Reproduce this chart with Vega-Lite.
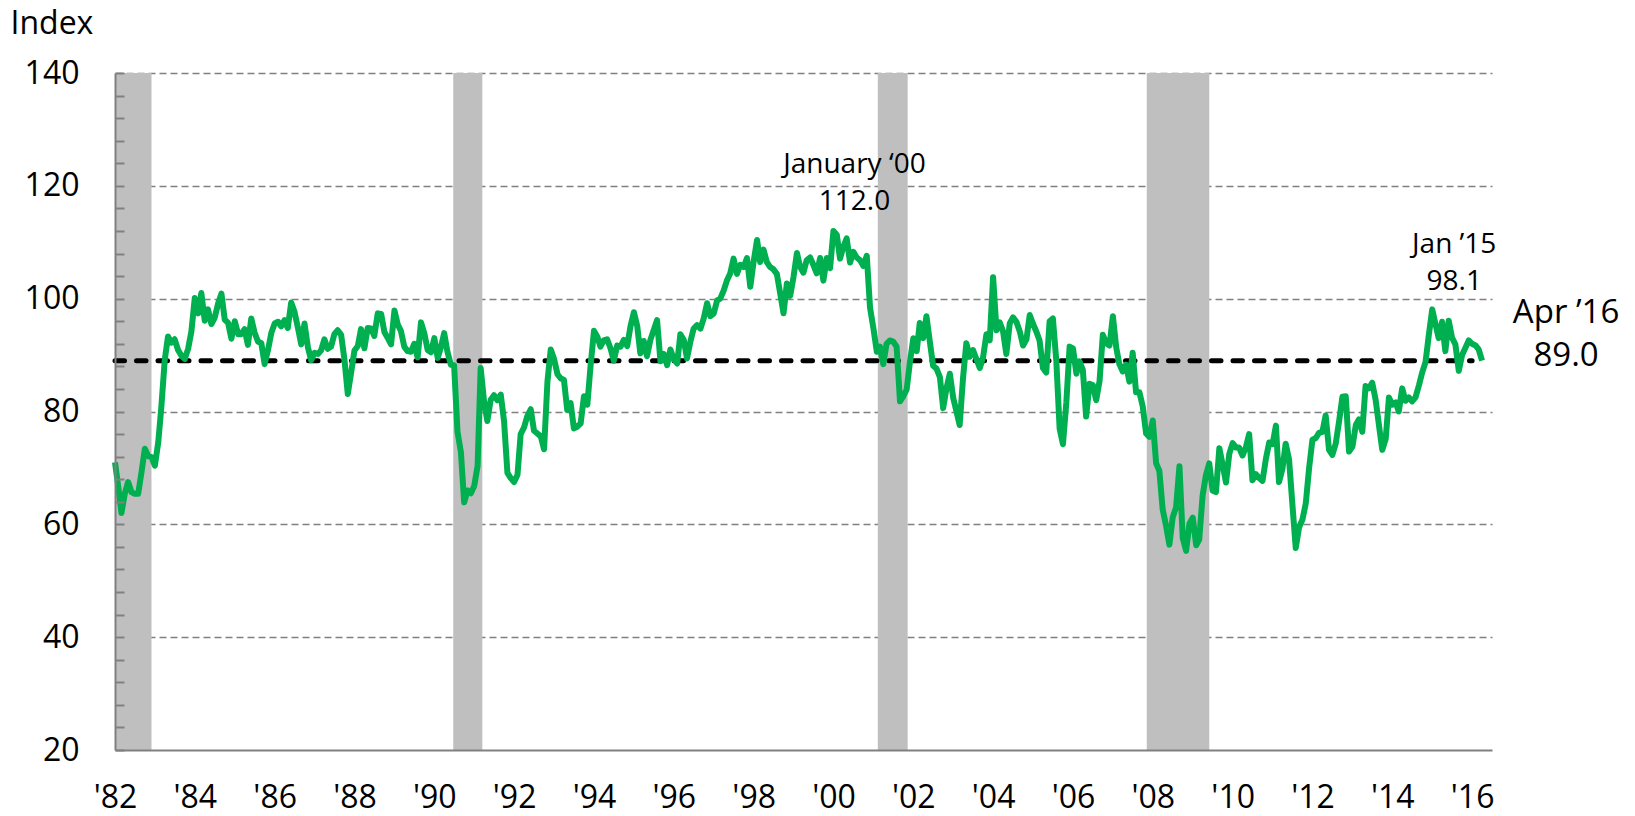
{
  "$schema": "https://vega.github.io/schema/vega-lite/v6.json",
  "width": 1377,
  "height": 677,
  "autosize": {"type": "none"},
  "padding": {"left": 115, "top": 73, "right": 143, "bottom": 66},
  "background": "white",
  "config": {
    "view": {"stroke": null},
    "font": "Open Sans",
    "text": {"font": "Open Sans", "color": "black"}
  },
  "datasets": {
    "sent": [
      {"d":"1982-01","v":71.0},{"d":"1982-02","v":66.5},{"d":"1982-03","v":62.0},{"d":"1982-04","v":65.5},{"d":"1982-05","v":67.5},{"d":"1982-06","v":65.7},{"d":"1982-07","v":65.4},{"d":"1982-08","v":65.4},{"d":"1982-09","v":69.3},{"d":"1982-10","v":73.4},{"d":"1982-11","v":72.1},{"d":"1982-12","v":71.9},
      {"d":"1983-01","v":70.4},{"d":"1983-02","v":74.6},{"d":"1983-03","v":80.8},{"d":"1983-04","v":89.1},{"d":"1983-05","v":93.3},{"d":"1983-06","v":92.2},{"d":"1983-07","v":92.8},{"d":"1983-08","v":90.9},{"d":"1983-09","v":89.9},{"d":"1983-10","v":89.3},{"d":"1983-11","v":91.1},{"d":"1983-12","v":94.2},
      {"d":"1984-01","v":100.1},{"d":"1984-02","v":97.4},{"d":"1984-03","v":101.0},{"d":"1984-04","v":96.1},{"d":"1984-05","v":98.1},{"d":"1984-06","v":95.5},{"d":"1984-07","v":96.6},{"d":"1984-08","v":99.1},{"d":"1984-09","v":100.9},{"d":"1984-10","v":96.3},{"d":"1984-11","v":95.7},{"d":"1984-12","v":92.9},
      {"d":"1985-01","v":96.0},{"d":"1985-02","v":93.7},{"d":"1985-03","v":93.7},{"d":"1985-04","v":94.6},{"d":"1985-05","v":91.8},{"d":"1985-06","v":96.5},{"d":"1985-07","v":94.0},{"d":"1985-08","v":92.4},{"d":"1985-09","v":92.1},{"d":"1985-10","v":88.4},{"d":"1985-11","v":90.9},{"d":"1985-12","v":93.9},
      {"d":"1986-01","v":95.6},{"d":"1986-02","v":95.9},{"d":"1986-03","v":95.1},{"d":"1986-04","v":96.2},{"d":"1986-05","v":94.8},{"d":"1986-06","v":99.3},{"d":"1986-07","v":97.7},{"d":"1986-08","v":94.9},{"d":"1986-09","v":91.9},{"d":"1986-10","v":95.6},{"d":"1986-11","v":91.4},{"d":"1986-12","v":89.1},
      {"d":"1987-01","v":90.4},{"d":"1987-02","v":90.2},{"d":"1987-03","v":90.8},{"d":"1987-04","v":92.8},{"d":"1987-05","v":91.1},{"d":"1987-06","v":91.5},{"d":"1987-07","v":93.7},{"d":"1987-08","v":94.4},{"d":"1987-09","v":93.6},{"d":"1987-10","v":89.3},{"d":"1987-11","v":83.1},{"d":"1987-12","v":86.8},
      {"d":"1988-01","v":90.8},{"d":"1988-02","v":91.6},{"d":"1988-03","v":94.6},{"d":"1988-04","v":91.2},{"d":"1988-05","v":94.8},{"d":"1988-06","v":94.7},{"d":"1988-07","v":93.4},{"d":"1988-08","v":97.4},{"d":"1988-09","v":97.3},{"d":"1988-10","v":94.1},{"d":"1988-11","v":93.0},{"d":"1988-12","v":91.9},
      {"d":"1989-01","v":97.9},{"d":"1989-02","v":95.4},{"d":"1989-03","v":94.3},{"d":"1989-04","v":91.5},{"d":"1989-05","v":90.7},{"d":"1989-06","v":90.6},{"d":"1989-07","v":92.0},{"d":"1989-08","v":89.6},{"d":"1989-09","v":95.8},{"d":"1989-10","v":93.9},{"d":"1989-11","v":90.9},{"d":"1989-12","v":90.5},
      {"d":"1990-01","v":93.0},{"d":"1990-02","v":89.5},{"d":"1990-03","v":91.3},{"d":"1990-04","v":93.9},{"d":"1990-05","v":90.6},{"d":"1990-06","v":88.3},{"d":"1990-07","v":88.2},{"d":"1990-08","v":76.4},{"d":"1990-09","v":72.8},{"d":"1990-10","v":63.9},{"d":"1990-11","v":66.0},{"d":"1990-12","v":65.5},
      {"d":"1991-01","v":66.8},{"d":"1991-02","v":70.4},{"d":"1991-03","v":87.7},{"d":"1991-04","v":81.8},{"d":"1991-05","v":78.3},{"d":"1991-06","v":82.1},{"d":"1991-07","v":82.9},{"d":"1991-08","v":82.0},{"d":"1991-09","v":83.0},{"d":"1991-10","v":78.3},{"d":"1991-11","v":69.1},{"d":"1991-12","v":68.2},
      {"d":"1992-01","v":67.5},{"d":"1992-02","v":68.8},{"d":"1992-03","v":76.0},{"d":"1992-04","v":77.2},{"d":"1992-05","v":79.2},{"d":"1992-06","v":80.4},{"d":"1992-07","v":76.6},{"d":"1992-08","v":76.1},{"d":"1992-09","v":75.6},{"d":"1992-10","v":73.3},{"d":"1992-11","v":85.3},{"d":"1992-12","v":91.0},
      {"d":"1993-01","v":89.3},{"d":"1993-02","v":86.6},{"d":"1993-03","v":85.9},{"d":"1993-04","v":85.6},{"d":"1993-05","v":80.3},{"d":"1993-06","v":81.5},{"d":"1993-07","v":77.0},{"d":"1993-08","v":77.3},{"d":"1993-09","v":77.9},{"d":"1993-10","v":82.7},{"d":"1993-11","v":81.2},{"d":"1993-12","v":88.2},
      {"d":"1994-01","v":94.3},{"d":"1994-02","v":93.2},{"d":"1994-03","v":91.5},{"d":"1994-04","v":92.6},{"d":"1994-05","v":92.8},{"d":"1994-06","v":91.2},{"d":"1994-07","v":89.0},{"d":"1994-08","v":91.7},{"d":"1994-09","v":91.5},{"d":"1994-10","v":92.7},{"d":"1994-11","v":91.6},{"d":"1994-12","v":95.1},
      {"d":"1995-01","v":97.6},{"d":"1995-02","v":95.1},{"d":"1995-03","v":90.3},{"d":"1995-04","v":92.5},{"d":"1995-05","v":89.8},{"d":"1995-06","v":92.7},{"d":"1995-07","v":94.4},{"d":"1995-08","v":96.2},{"d":"1995-09","v":88.9},{"d":"1995-10","v":90.2},{"d":"1995-11","v":88.2},{"d":"1995-12","v":91.0},
      {"d":"1996-01","v":89.3},{"d":"1996-02","v":88.5},{"d":"1996-03","v":93.7},{"d":"1996-04","v":92.7},{"d":"1996-05","v":89.4},{"d":"1996-06","v":92.4},{"d":"1996-07","v":94.7},{"d":"1996-08","v":95.3},{"d":"1996-09","v":94.7},{"d":"1996-10","v":96.5},{"d":"1996-11","v":99.2},{"d":"1996-12","v":96.9},
      {"d":"1997-01","v":97.4},{"d":"1997-02","v":99.7},{"d":"1997-03","v":100.0},{"d":"1997-04","v":101.4},{"d":"1997-05","v":103.2},{"d":"1997-06","v":104.5},{"d":"1997-07","v":107.1},{"d":"1997-08","v":104.4},{"d":"1997-09","v":106.0},{"d":"1997-10","v":105.6},{"d":"1997-11","v":107.2},{"d":"1997-12","v":102.1},
      {"d":"1998-01","v":106.6},{"d":"1998-02","v":110.4},{"d":"1998-03","v":106.5},{"d":"1998-04","v":108.7},{"d":"1998-05","v":106.5},{"d":"1998-06","v":105.6},{"d":"1998-07","v":105.2},{"d":"1998-08","v":104.4},{"d":"1998-09","v":100.9},{"d":"1998-10","v":97.4},{"d":"1998-11","v":102.7},{"d":"1998-12","v":100.5},
      {"d":"1999-01","v":103.9},{"d":"1999-02","v":108.1},{"d":"1999-03","v":105.7},{"d":"1999-04","v":104.6},{"d":"1999-05","v":106.8},{"d":"1999-06","v":107.3},{"d":"1999-07","v":106.0},{"d":"1999-08","v":104.5},{"d":"1999-09","v":107.2},{"d":"1999-10","v":103.2},{"d":"1999-11","v":107.2},{"d":"1999-12","v":105.4},
      {"d":"2000-01","v":112.0},{"d":"2000-02","v":111.3},{"d":"2000-03","v":107.1},{"d":"2000-04","v":109.2},{"d":"2000-05","v":110.7},{"d":"2000-06","v":106.4},{"d":"2000-07","v":108.3},{"d":"2000-08","v":107.3},{"d":"2000-09","v":106.8},{"d":"2000-10","v":105.8},{"d":"2000-11","v":107.6},{"d":"2000-12","v":98.4},
      {"d":"2001-01","v":94.7},{"d":"2001-02","v":90.6},{"d":"2001-03","v":91.5},{"d":"2001-04","v":88.4},{"d":"2001-05","v":92.0},{"d":"2001-06","v":92.6},{"d":"2001-07","v":92.4},{"d":"2001-08","v":91.5},{"d":"2001-09","v":81.8},{"d":"2001-10","v":82.7},{"d":"2001-11","v":83.9},{"d":"2001-12","v":88.8},
      {"d":"2002-01","v":93.0},{"d":"2002-02","v":90.7},{"d":"2002-03","v":95.7},{"d":"2002-04","v":93.0},{"d":"2002-05","v":96.9},{"d":"2002-06","v":92.4},{"d":"2002-07","v":88.1},{"d":"2002-08","v":87.6},{"d":"2002-09","v":86.1},{"d":"2002-10","v":80.6},{"d":"2002-11","v":84.2},{"d":"2002-12","v":86.7},
      {"d":"2003-01","v":82.4},{"d":"2003-02","v":79.9},{"d":"2003-03","v":77.6},{"d":"2003-04","v":86.0},{"d":"2003-05","v":92.1},{"d":"2003-06","v":89.7},{"d":"2003-07","v":90.9},{"d":"2003-08","v":89.3},{"d":"2003-09","v":87.7},{"d":"2003-10","v":89.6},{"d":"2003-11","v":93.7},{"d":"2003-12","v":92.6},
      {"d":"2004-01","v":103.8},{"d":"2004-02","v":94.4},{"d":"2004-03","v":95.8},{"d":"2004-04","v":94.2},{"d":"2004-05","v":90.2},{"d":"2004-06","v":95.6},{"d":"2004-07","v":96.7},{"d":"2004-08","v":95.9},{"d":"2004-09","v":94.2},{"d":"2004-10","v":91.7},{"d":"2004-11","v":92.8},{"d":"2004-12","v":97.1},
      {"d":"2005-01","v":95.5},{"d":"2005-02","v":94.1},{"d":"2005-03","v":92.6},{"d":"2005-04","v":87.7},{"d":"2005-05","v":86.9},{"d":"2005-06","v":96.0},{"d":"2005-07","v":96.5},{"d":"2005-08","v":89.1},{"d":"2005-09","v":76.9},{"d":"2005-10","v":74.2},{"d":"2005-11","v":81.6},{"d":"2005-12","v":91.5},
      {"d":"2006-01","v":91.2},{"d":"2006-02","v":86.7},{"d":"2006-03","v":88.9},{"d":"2006-04","v":87.4},{"d":"2006-05","v":79.1},{"d":"2006-06","v":84.9},{"d":"2006-07","v":84.7},{"d":"2006-08","v":82.0},{"d":"2006-09","v":85.4},{"d":"2006-10","v":93.6},{"d":"2006-11","v":92.1},{"d":"2006-12","v":91.7},
      {"d":"2007-01","v":96.9},{"d":"2007-02","v":91.3},{"d":"2007-03","v":88.4},{"d":"2007-04","v":87.1},{"d":"2007-05","v":88.3},{"d":"2007-06","v":85.3},{"d":"2007-07","v":90.4},{"d":"2007-08","v":83.4},{"d":"2007-09","v":83.4},{"d":"2007-10","v":80.9},{"d":"2007-11","v":76.1},{"d":"2007-12","v":75.5},
      {"d":"2008-01","v":78.4},{"d":"2008-02","v":70.8},{"d":"2008-03","v":69.5},{"d":"2008-04","v":62.6},{"d":"2008-05","v":59.8},{"d":"2008-06","v":56.4},{"d":"2008-07","v":61.2},{"d":"2008-08","v":63.0},{"d":"2008-09","v":70.3},{"d":"2008-10","v":57.6},{"d":"2008-11","v":55.3},{"d":"2008-12","v":60.1},
      {"d":"2009-01","v":61.2},{"d":"2009-02","v":56.3},{"d":"2009-03","v":57.3},{"d":"2009-04","v":65.1},{"d":"2009-05","v":68.7},{"d":"2009-06","v":70.8},{"d":"2009-07","v":66.0},{"d":"2009-08","v":65.7},{"d":"2009-09","v":73.5},{"d":"2009-10","v":70.6},{"d":"2009-11","v":67.4},{"d":"2009-12","v":72.5},
      {"d":"2010-01","v":74.4},{"d":"2010-02","v":73.6},{"d":"2010-03","v":73.6},{"d":"2010-04","v":72.2},{"d":"2010-05","v":73.6},{"d":"2010-06","v":76.0},{"d":"2010-07","v":67.8},{"d":"2010-08","v":68.9},{"d":"2010-09","v":68.2},{"d":"2010-10","v":67.7},{"d":"2010-11","v":71.6},{"d":"2010-12","v":74.5},
      {"d":"2011-01","v":74.2},{"d":"2011-02","v":77.5},{"d":"2011-03","v":67.5},{"d":"2011-04","v":69.8},{"d":"2011-05","v":74.3},{"d":"2011-06","v":71.5},{"d":"2011-07","v":63.7},{"d":"2011-08","v":55.8},{"d":"2011-09","v":59.5},{"d":"2011-10","v":60.8},{"d":"2011-11","v":63.7},{"d":"2011-12","v":69.9},
      {"d":"2012-01","v":75.0},{"d":"2012-02","v":75.3},{"d":"2012-03","v":76.2},{"d":"2012-04","v":76.4},{"d":"2012-05","v":79.3},{"d":"2012-06","v":73.2},{"d":"2012-07","v":72.3},{"d":"2012-08","v":74.3},{"d":"2012-09","v":78.3},{"d":"2012-10","v":82.6},{"d":"2012-11","v":82.7},{"d":"2012-12","v":72.9},
      {"d":"2013-01","v":73.8},{"d":"2013-02","v":77.6},{"d":"2013-03","v":78.6},{"d":"2013-04","v":76.4},{"d":"2013-05","v":84.5},{"d":"2013-06","v":84.1},{"d":"2013-07","v":85.1},{"d":"2013-08","v":82.1},{"d":"2013-09","v":77.5},{"d":"2013-10","v":73.2},{"d":"2013-11","v":75.1},{"d":"2013-12","v":82.5},
      {"d":"2014-01","v":81.2},{"d":"2014-02","v":81.6},{"d":"2014-03","v":80.0},{"d":"2014-04","v":84.1},{"d":"2014-05","v":81.9},{"d":"2014-06","v":82.5},{"d":"2014-07","v":81.8},{"d":"2014-08","v":82.5},{"d":"2014-09","v":84.6},{"d":"2014-10","v":86.9},{"d":"2014-11","v":88.8},{"d":"2014-12","v":93.6},
      {"d":"2015-01","v":98.1},{"d":"2015-02","v":95.4},{"d":"2015-03","v":93.0},{"d":"2015-04","v":95.9},{"d":"2015-05","v":90.7},{"d":"2015-06","v":96.1},{"d":"2015-07","v":93.1},{"d":"2015-08","v":91.9},{"d":"2015-09","v":87.2},{"d":"2015-10","v":90.0},{"d":"2015-11","v":91.3},{"d":"2015-12","v":92.6},
      {"d":"2016-01","v":92.0},{"d":"2016-02","v":91.7},{"d":"2016-03","v":91.0},{"d":"2016-04","v":89.0}
    ],
    "rec": [
      {"start":"1982-01-01","end":"1982-12-01"},
      {"start":"1990-06-23","end":"1991-03-16"},
      {"start":"2001-02-10","end":"2001-11-10"},
      {"start":"2007-11-07","end":"2009-06-01"}
    ],
    "avg": [
      {"s":"1982-01-01","e":"2016-01-01","v":89.0}
    ]
  },
  "layer": [
    {
      "data": {"name": "rec"},
      "mark": {"type": "rect", "color": "#BFBFBF"},
      "encoding": {
        "x": {"field": "start", "type": "temporal", "axis": null,
              "scale": {"type": "utc", "domain": [{"year":1982,"month":1,"date":1,"utc":true},{"year":2016,"month":7,"date":1,"utc":true}]}},
        "x2": {"field": "end"}
      }
    },
    {
      "data": {"name": "avg"},
      "mark": {"type": "rule", "color": "black", "strokeWidth": 5, "strokeDash": [9.5, 12], "strokeCap": "round"},
      "encoding": {
        "x": {"field": "s", "type": "temporal", "axis": null},
        "x2": {"field": "e"},
        "y": {"field": "v", "type": "quantitative",
              "scale": {"domain": [20, 140], "nice": false, "zero": false},
              "axis": {"orient": "left", "values": [40, 60, 80, 100, 120, 140], "grid": true, "gridColor": "#808080", "gridDash": [7, 4], "gridWidth": 1.5,
                       "labels": false, "ticks": false, "domain": false, "title": null, "zindex": 0}}
      }
    },
    {
      "data": {"name": "sent"},
      "mark": {"type": "line", "color": "#00B050", "strokeWidth": 6, "strokeJoin": "round"},
      "encoding": {
        "x": {"field": "d", "type": "temporal",
              "axis": {"orient": "bottom", "values": [{"year":1982,"month":1,"date":1,"utc":true},{"year":1984,"month":1,"date":1,"utc":true},{"year":1986,"month":1,"date":1,"utc":true},{"year":1988,"month":1,"date":1,"utc":true},{"year":1990,"month":1,"date":1,"utc":true},{"year":1992,"month":1,"date":1,"utc":true},{"year":1994,"month":1,"date":1,"utc":true},{"year":1996,"month":1,"date":1,"utc":true},{"year":1998,"month":1,"date":1,"utc":true},{"year":2000,"month":1,"date":1,"utc":true},{"year":2002,"month":1,"date":1,"utc":true},{"year":2004,"month":1,"date":1,"utc":true},{"year":2006,"month":1,"date":1,"utc":true},{"year":2008,"month":1,"date":1,"utc":true},{"year":2010,"month":1,"date":1,"utc":true},{"year":2012,"month":1,"date":1,"utc":true},{"year":2014,"month":1,"date":1,"utc":true},{"year":2016,"month":1,"date":1,"utc":true}],
                       "labelExpr": "\"'\" + utcFormat(datum.value, \"%y\")",
                       "labelFont": "Open Sans", "labelFontSize": 32, "labelColor": "black", "labelPadding": 32,
                       "labelFlush": false, "labelOverlap": false, "labelBound": false,
                       "ticks": false, "grid": false, "domainColor": "#808080", "domainWidth": 2, "title": null, "zindex": 1}},
        "y": {"field": "v", "type": "quantitative",
              "axis": {"orient": "left", "values": [20, 40, 60, 80, 100, 120, 140], "grid": false, "ticks": false, "domain": true, "domainColor": "#808080", "domainWidth": 2,
                       "labelFont": "Open Sans", "labelFontSize": 32, "labelColor": "black", "labelPadding": 36,
                       "title": "Index", "titleAngle": 0, "titleAlign": "left", "titleBaseline": "middle", "titleX": -105, "titleY": -50,
                       "titleFont": "Open Sans", "titleFontSize": 32, "titleFontWeight": "normal", "titleColor": "black", "zindex": 1}}
      }
    },
    {
      "data": {"values": [{"d": "2000-01", "v": 112.0, "t": "January ‘00"}]},
      "mark": {"type": "text", "fontSize": 28, "align": "center", "baseline": "middle", "dx": 21, "dy": -66},
      "encoding": {
        "x": {"field": "d", "type": "temporal", "axis": null},
        "y": {"field": "v", "type": "quantitative",
              "axis": {"orient": "left", "values": [20,24,28,32,36,40,44,48,52,56,60,64,68,72,76,80,84,88,92,96,100,104,108,112,116,120,124,128,132,136,140],
                       "ticks": true, "tickSize": -9, "tickColor": "#808080", "tickWidth": 2, "labels": false, "domain": false, "grid": false, "title": null, "zindex": 1}},
        "text": {"field": "t"}
      }
    },
    {
      "data": {"values": [{"d": "2000-01", "v": 112.0, "t": "112.0"}]},
      "mark": {"type": "text", "fontSize": 28, "align": "center", "baseline": "middle", "dx": 21, "dy": -29},
      "encoding": {
        "x": {"field": "d", "type": "temporal", "axis": null},
        "y": {"field": "v", "type": "quantitative", "axis": null},
        "text": {"field": "t"}
      }
    },
    {
      "data": {"values": [{"d": "2015-01", "v": 98.1, "t": "Jan ’15"}]},
      "mark": {"type": "text", "fontSize": 28, "align": "center", "baseline": "middle", "dx": 22, "dy": -64},
      "encoding": {
        "x": {"field": "d", "type": "temporal", "axis": null},
        "y": {"field": "v", "type": "quantitative", "axis": null},
        "text": {"field": "t"}
      }
    },
    {
      "data": {"values": [{"d": "2015-01", "v": 98.1, "t": "98.1"}]},
      "mark": {"type": "text", "fontSize": 28, "align": "center", "baseline": "middle", "dx": 22, "dy": -27},
      "encoding": {
        "x": {"field": "d", "type": "temporal", "axis": null},
        "y": {"field": "v", "type": "quantitative", "axis": null},
        "text": {"field": "t"}
      }
    },
    {
      "data": {"values": [{"d": "2016-04", "v": 89.0, "t": "Apr ’16"}]},
      "mark": {"type": "text", "fontSize": 33, "align": "center", "baseline": "middle", "dx": 84, "dy": -48},
      "encoding": {
        "x": {"field": "d", "type": "temporal", "axis": null},
        "y": {"field": "v", "type": "quantitative", "axis": null},
        "text": {"field": "t"}
      }
    },
    {
      "data": {"values": [{"d": "2016-04", "v": 89.0, "t": "89.0"}]},
      "mark": {"type": "text", "fontSize": 33, "align": "center", "baseline": "middle", "dx": 84, "dy": -5},
      "encoding": {
        "x": {"field": "d", "type": "temporal", "axis": null},
        "y": {"field": "v", "type": "quantitative", "axis": null},
        "text": {"field": "t"}
      }
    }
  ],
  "resolve": {"axis": {"x": "independent", "y": "independent"}}
}
